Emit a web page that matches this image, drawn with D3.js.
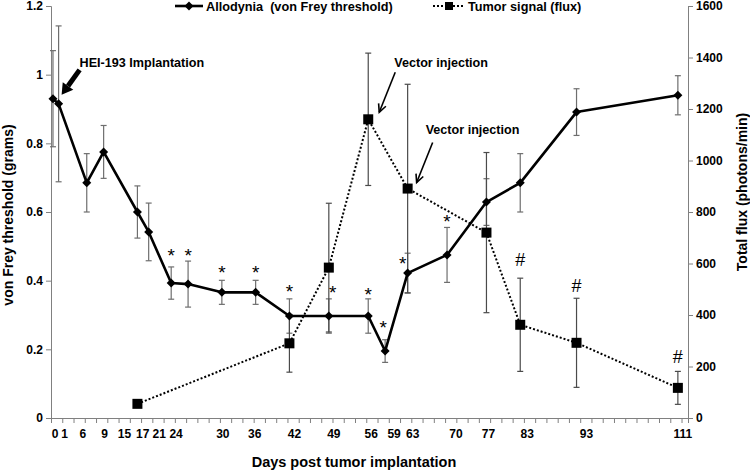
<!DOCTYPE html>
<html><head><meta charset="utf-8">
<script src="https://cdn.jsdelivr.net/npm/d3@7"></script>
<style>
body{margin:0;background:#fff}
text{font-family:"Liberation Sans",Arial,sans-serif;fill:#000}
</style>
</head><body>
<svg id="c" width="750" height="470"></svg>
<script>
// ---- data ----
const allodyniaDays = [0,1,6,9,15,17,21,24,30,36,42,49,56,59,63,70,77,83,93,111];
const vonFrey      = [0.93,0.915,0.685,0.775,0.60,0.542,0.393,0.39,0.366,0.366,0.297,0.297,0.297,0.195,0.422,0.475,0.629,0.685,0.891,0.94];
const vonFreyErr   = [0.14,0.227,0.085,0.077,0.076,0.084,0.047,0.067,0.035,0.035,0.05,0.05,0.05,0.033,0.058,0.08,0.068,0.085,0.068,0.057];
const tumorDays = [15,42,49,56,63,77,83,93,111];
const tumorFlux = [55,290,584,1160,891,720,362,292,117];
const tumorErr  = [0,112,250,257,405,311,181,173,64];
const starDays = [21,24,30,36,42,49,56,59,63,70];
const hashDays = [83,93,111];
const xTickLabels = [0,1,6,9,15,17,21,24,30,36,42,49,56,59,63,70,77,83,93,111];
const leftTicks = [0,0.2,0.4,0.6,0.8,1,1.2];
const rightTicks = [0,200,400,600,800,1000,1200,1400,1600];
const legendLabels = ["Allodynia  (von Frey threshold)","Tumor signal (flux)"];

// ---- layout ----
const svg = d3.select("#c");
const x = d3.scaleLinear().domain([-0.35,112.8]).range([51,688]);
const yL = d3.scaleLinear().domain([0,1.2]).range([418,6]);
const yR = d3.scaleLinear().domain([0,1600]).range([418,6]);
const axisGray = "#808080";
const font = "Liberation Sans, Arial, sans-serif";

// axes
const gL = svg.append("g").attr("transform","translate(51,0)")
  .call(d3.axisLeft(yL).tickValues(leftTicks).tickFormat(d=>String(d)).tickSizeOuter(0).tickSize(5).tickPadding(3));
const gR = svg.append("g").attr("transform","translate(688,0)")
  .call(d3.axisRight(yR).tickValues(rightTicks).tickFormat(d=>String(d)).tickSizeOuter(0).tickSize(5).tickPadding(3));
const minorTicks = d3.range(-0.35,112,2);
const gB = svg.append("g").attr("transform","translate(0,418)")
  .call(d3.axisBottom(x).tickValues(minorTicks).tickFormat("").tickSizeOuter(0).tickSize(5));
[gL,gR,gB].forEach(g=>{
  g.select(".domain").attr("stroke",axisGray).attr("stroke-width",1);
  g.selectAll(".tick line").attr("stroke",axisGray);
  g.selectAll("text").attr("font-family",font).attr("font-weight","bold").attr("font-size",12).attr("fill","#000");
});

// x tick labels (hand-typed row in the original, nudged to avoid crowding)
const nudge = {0:2,1:6,6:-4,9:1,15:-13,17:-6,21:-12,24:-12,30:1,36:-1,42:5,49:5,56:3,59:9,63:5,70:9,77:2,83:7,93:10,111:5};
svg.append("g").selectAll("text").data(xTickLabels).join("text")
  .attr("x",d=>x(d)+(nudge[d]||0)).attr("y",438)
  .attr("text-anchor","middle").attr("font-weight","bold").attr("font-size",12)
  .text(d=>d);

// axis titles
svg.append("text").attr("x",354).attr("y",467).attr("text-anchor","middle")
  .attr("font-weight","bold").attr("font-size",14.5).text("Days post tumor implantation");
svg.append("text").attr("transform","translate(13,215) rotate(-90)").attr("text-anchor","middle")
  .attr("font-weight","bold").attr("font-size",14).text("von Frey threshold (grams)");
svg.append("text").attr("transform","translate(747,192) rotate(-90)").attr("text-anchor","middle")
  .attr("font-weight","bold").attr("font-size",14).text("Total flux (photons/min)");

// error bars
function errBars(g, xs, ys, es, y, color){
  const d = xs.map((v,i)=>({x:x(v), lo:y(ys[i]-es[i]), hi:y(ys[i]+es[i]), e:es[i]})).filter(o=>o.e>0);
  g.selectAll(null).data(d).join("line").attr("x1",o=>o.x).attr("x2",o=>o.x).attr("y1",o=>o.lo).attr("y2",o=>o.hi)
    .attr("stroke",color).attr("stroke-width",1.2);
  ["lo","hi"].forEach(k=>{
    g.selectAll(null).data(d).join("line").attr("x1",o=>o.x-3).attr("x2",o=>o.x+3).attr("y1",o=>o[k]).attr("y2",o=>o[k])
      .attr("stroke",color).attr("stroke-width",1.2);
  });
}
const gErr = svg.append("g");
errBars(gErr, allodyniaDays, vonFrey, vonFreyErr, yL, "#6e6e6e");
errBars(gErr, tumorDays, tumorFlux, tumorErr, yR, "#4a4a4a");

// tumor line
const tumorPts = tumorDays.map((d,i)=>[x(d),yR(tumorFlux[i])]);
svg.append("path").attr("d",d3.line()(tumorPts)).attr("fill","none")
  .attr("stroke","#000").attr("stroke-width",2).attr("stroke-dasharray","2,2");
svg.append("g").selectAll("rect").data(tumorPts).join("rect")
  .attr("x",p=>p[0]-5).attr("y",p=>p[1]-5).attr("width",10).attr("height",10).attr("fill","#000");

// allodynia line
const alloPts = allodyniaDays.map((d,i)=>[x(d),yL(vonFrey[i])]);
svg.append("path").attr("d",d3.line()(alloPts)).attr("fill","none")
  .attr("stroke","#000").attr("stroke-width",2.6).attr("stroke-linejoin","round");
const diamond = (cx,cy,r)=>`M${cx},${cy-r}L${cx+r},${cy}L${cx},${cy+r}L${cx-r},${cy}Z`;
svg.append("g").selectAll("path").data(alloPts).join("path")
  .attr("d",p=>diamond(p[0],p[1],4.5)).attr("fill","#000");

// significance marks
const starOff = {21:[0,-4],24:[0,2],49:[4,1],56:[0,3],59:[-2,-5],63:[-5,18],70:[0,2]};
svg.append("g").selectAll("text").data(starDays).join("text")
  .attr("x",d=>x(d)+((starOff[d]||[0,0])[0]))
  .attr("y",d=>{const i=allodyniaDays.indexOf(d);return yL(vonFrey[i]+vonFreyErr[i])-1+((starOff[d]||[0,0])[1]);})
  .attr("text-anchor","middle").attr("font-size",19).text("*");
const hashOff = {83:-6,93:0,111:-2};
svg.append("g").selectAll("text").data(hashDays).join("text")
  .attr("x",d=>x(d))
  .attr("y",d=>{const i=tumorDays.indexOf(d);return yR(tumorFlux[i]+tumorErr[i])-6+hashOff[d];})
  .attr("text-anchor","middle").attr("font-size",18).text("#");

// annotations
function arrowOpen(x1,y1,x2,y2,w){
  const a=Math.atan2(y2-y1,x2-x1), L=9, s=0.45;
  svg.append("line").attr("x1",x1).attr("y1",y1).attr("x2",x2).attr("y2",y2).attr("stroke","#000").attr("stroke-width",w);
  svg.append("path").attr("d",`M${x2-L*Math.cos(a-s)},${y2-L*Math.sin(a-s)}L${x2},${y2}L${x2-L*Math.cos(a+s)},${y2-L*Math.sin(a+s)}`)
    .attr("fill","none").attr("stroke","#000").attr("stroke-width",w);
}
function arrowBlock(x1,y1,x2,y2){
  const a=Math.atan2(y2-y1,x2-x1), L=11, W=6.5;
  const bx=x2-L*Math.cos(a), by=y2-L*Math.sin(a);
  svg.append("line").attr("x1",x1).attr("y1",y1).attr("x2",bx).attr("y2",by).attr("stroke","#000").attr("stroke-width",5);
  const nx=-Math.sin(a), ny=Math.cos(a);
  svg.append("path").attr("d",`M${x2},${y2}L${bx+nx*W},${by+ny*W}L${bx-nx*W},${by-ny*W}Z`).attr("fill","#000");
}
// HEI-193 at day 1
{
  const px=x(1), py=yL(vonFrey[1]);
  svg.append("text").attr("x",px+21).attr("y",py-37).attr("font-weight","bold").attr("font-size",12.6).text("HEI-193 Implantation");
  arrowBlock(px+21,py-34,px+3,py-9);
}
// Vector injections at tumor days 56 and 63
[[56,[26,-52],[27,-47],[11,-7]],[63,[18,-55],[25,-46],[9,-6]]].forEach(([d,t,s,e])=>{
  const i=tumorDays.indexOf(d), px=x(d), py=yR(tumorFlux[i]);
  svg.append("text").attr("x",px+t[0]).attr("y",py+t[1]).attr("font-weight","bold").attr("font-size",12.6).text("Vector injection");
  arrowOpen(px+s[0],py+s[1],px+e[0],py+e[1],1.6);
});

// legend
const lg = svg.append("g");
lg.append("line").attr("x1",175).attr("x2",203).attr("y1",6).attr("y2",6).attr("stroke","#000").attr("stroke-width",2.6);
lg.append("path").attr("d",diamond(189,6,4.5)).attr("fill","#000");
lg.append("text").attr("x",206).attr("y",10.5).attr("font-weight","bold").attr("font-size",12.7)
  .attr("xml:space","preserve").style("white-space","pre").text(legendLabels[0]);
lg.append("line").attr("x1",433).attr("x2",465).attr("y1",6).attr("y2",6).attr("stroke","#000").attr("stroke-width",2).attr("stroke-dasharray","2,2");
lg.append("rect").attr("x",445).attr("y",2).attr("width",8).attr("height",8).attr("fill","#000");
lg.append("text").attr("x",468).attr("y",10.5).attr("font-weight","bold").attr("font-size",12.7).text(legendLabels[1]);
</script>
</body></html>
